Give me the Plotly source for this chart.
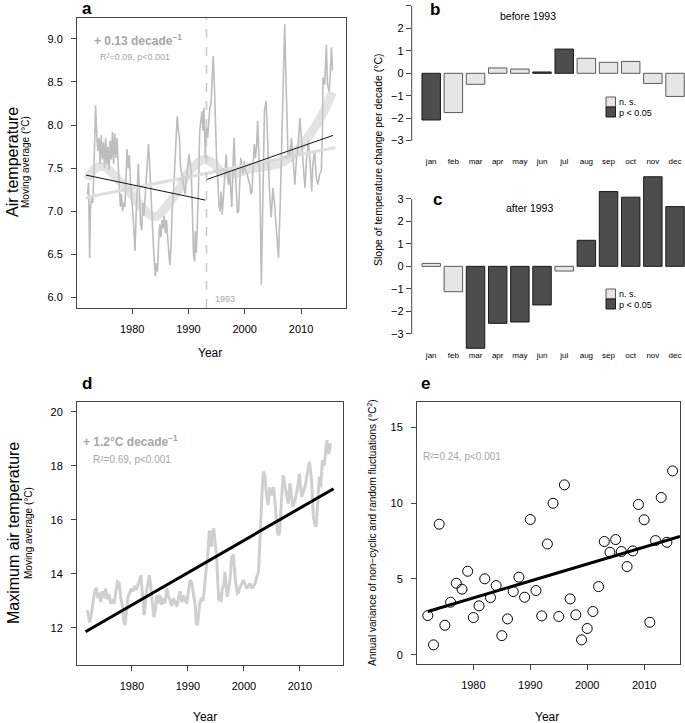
import plotly.graph_objects as go

W, H = 685, 723
def px(x): return x / W
def py(y): return 1 - y / H

FONT = "Liberation Sans, Arial, sans-serif"

# ---------------- data ----------------
months = ["jan", "feb", "mar", "apr", "may", "jun", "jul", "aug", "sep", "oct", "nov", "dec"]
slope_before = [-2.08, -1.75, -0.49, 0.24, 0.19, 0.06, 1.08, 0.67, 0.49, 0.53, -0.45, -1.03]
sig_before = [1, 0, 0, 0, 0, 1, 1, 0, 0, 0, 0, 0]
slope_after = [0.13, -1.13, -3.65, -2.54, -2.48, -1.72, -0.21, 1.16, 3.33, 3.08, 3.99, 2.66]
sig_after = [0, 0, 1, 1, 1, 1, 0, 1, 1, 1, 1, 1]

air_year = [1972.05, 1972.25, 1972.45, 1972.6, 1972.8, 1973.0, 1973.2, 1973.5, 1973.7, 1973.9,
            1974.1, 1974.3, 1974.5, 1974.7, 1974.9, 1975.1, 1975.3, 1975.5, 1975.7, 1975.9,
            1976.1, 1976.3, 1976.5, 1976.7, 1976.9, 1977.1, 1977.3, 1977.5, 1977.7, 1977.9,
            1978.1, 1978.3, 1978.5, 1978.7, 1978.9, 1979.1, 1979.3, 1979.5, 1979.7, 1979.9,
            1980.1, 1980.3, 1980.5, 1980.7, 1980.9, 1981.1, 1981.3, 1981.5, 1981.7, 1981.9,
            1982.1, 1982.3, 1982.5, 1982.7, 1982.9, 1983.1, 1983.3, 1983.5, 1983.7, 1983.9,
            1984.1, 1984.3, 1984.5, 1984.7, 1984.9, 1985.1, 1985.3, 1985.5, 1985.7, 1985.9,
            1986.1, 1986.3, 1986.5, 1986.7, 1986.9, 1987.1, 1987.4, 1987.6, 1987.8, 1988.0,
            1988.2, 1988.4, 1988.6, 1988.8, 1989.0, 1989.2, 1989.4, 1989.6, 1989.9, 1990.1,
            1990.3, 1990.5, 1990.7, 1990.9, 1991.1, 1991.2, 1991.4, 1991.6, 1991.8, 1992.0,
            1992.2, 1992.4, 1992.6, 1992.75, 1993.0, 1993.2, 1993.4, 1993.6, 1993.8, 1994.0,
            1994.2, 1994.4, 1994.6, 1994.8, 1995.0, 1995.2, 1995.4, 1995.6, 1995.8, 1996.0,
            1996.2, 1996.4, 1996.7, 1996.9, 1997.1, 1997.3, 1997.5, 1997.7, 1997.9, 1998.1,
            1998.3, 1998.5, 1998.7, 1998.9, 1999.1, 1999.3, 1999.5, 1999.7, 1999.9, 2000.1,
            2000.4, 2000.7, 2000.9, 2001.1, 2001.3, 2001.5, 2001.7, 2001.9, 2002.1, 2002.3,
            2002.5, 2002.7, 2002.95, 2003.2, 2003.5, 2003.8, 2004.1, 2004.4, 2004.7, 2005.0,
            2005.3, 2005.6, 2005.8, 2006.0, 2006.3, 2006.7, 2006.9, 2007.1, 2007.3, 2007.5,
            2007.7, 2008.0, 2008.3, 2008.6, 2008.9, 2009.2, 2009.5, 2009.8, 2010.1, 2010.4,
            2010.7, 2011.0, 2011.3, 2011.6, 2011.9, 2012.1, 2012.4, 2012.7, 2013.0, 2013.3,
            2013.6, 2013.8, 2013.9, 2014.2, 2014.5, 2014.7, 2015.0, 2015.2, 2015.4, 2015.6]
air_ma = [7.20, 7.33, 6.46, 7.05, 7.15, 7.10, 7.45, 8.23, 7.90, 7.70,
          7.85, 7.55, 7.88, 7.60, 7.80, 7.50, 7.85, 7.55, 7.75, 7.48,
          7.82, 7.60, 7.92, 7.55, 7.90, 7.62, 7.85, 7.45, 7.30, 7.05,
          7.20, 7.00, 7.10, 7.05, 7.40, 7.72, 7.50, 7.65, 7.35, 7.10,
          7.00, 6.80, 6.54, 6.95, 7.30, 7.55, 7.20, 6.85, 6.78, 7.10,
          6.95, 7.15, 7.40, 7.60, 7.78, 7.55, 7.20, 6.90, 6.70, 6.45,
          6.25, 6.40, 6.30, 6.65, 6.85, 6.70, 6.90, 6.80, 6.95, 6.75,
          6.90, 6.70, 6.55, 6.38, 6.60, 7.00, 7.30, 7.55, 7.90, 8.10,
          7.95, 7.85, 7.50, 7.45, 7.35, 7.25, 7.20, 7.35, 7.50, 7.66,
          7.55, 7.45, 7.00, 6.50, 6.42, 6.77, 6.52, 6.90, 7.30, 7.93,
          8.10, 8.16, 7.93, 8.20, 7.62, 7.97, 7.85, 8.05, 8.20, 8.24,
          8.50, 8.80, 8.47, 8.00, 7.60, 7.39, 7.08, 7.00, 7.23, 6.96,
          7.15, 7.31, 7.66, 7.45, 7.31, 7.47, 7.16, 7.05, 7.50, 7.85,
          7.50, 7.20, 6.98, 7.00, 7.31, 7.62, 7.50, 7.43, 7.58, 7.48,
          7.43, 7.35, 7.31, 7.20, 7.23, 7.55, 7.78, 7.62, 7.75, 8.05,
          7.70, 7.30, 6.15, 7.08, 8.16, 8.28, 7.70, 7.23, 6.93, 7.27,
          7.08, 6.77, 6.70, 6.46, 7.08, 8.08, 8.70, 9.17, 8.60, 8.10,
          7.62, 7.66, 7.85, 7.58, 7.31, 7.62, 7.78, 8.08, 7.78, 7.54,
          7.27, 7.62, 7.81, 7.58, 7.23, 7.54, 7.70, 7.39, 7.31, 7.43,
          7.47, 7.90, 8.55, 8.47, 8.93, 8.47, 8.39, 8.60, 8.90, 8.63]

loess_year = [1972, 1973.5, 1975, 1977, 1979, 1981, 1983, 1984.3, 1986, 1988, 1990, 1992,
              1993, 1994.5, 1996, 1998, 2000, 2002, 2004, 2006, 2008, 2010, 2012, 2014, 2015.6]
loess_val = [7.37, 7.50, 7.52, 7.40, 7.27, 7.10, 6.97, 6.94, 7.05, 7.22, 7.45, 7.58,
             7.60, 7.55, 7.45, 7.43, 7.47, 7.50, 7.52, 7.55, 7.62, 7.76, 7.93, 8.15, 8.38]

trend_all_year = [1971.8, 2016.1]
trend_all_val = [7.16, 7.74]
trend_before_year = [1971.8, 1993.0]
trend_before_val = [7.42, 7.13]
trend_after_year = [1993.3, 2015.7]
trend_after_val = [7.37, 7.88]
break_year = 1993.2

max_year = [1972.0, 1972.2, 1972.45, 1972.7, 1973.0, 1973.3, 1973.6, 1973.9, 1974.1, 1974.4,
            1974.7, 1975.0, 1975.3, 1975.6, 1975.9, 1976.2, 1976.5, 1976.8, 1977.1, 1977.4,
            1977.7, 1978.0, 1978.3, 1978.5, 1978.75, 1979.0, 1979.3, 1979.6, 1979.9, 1980.2,
            1980.5, 1980.8, 1981.1, 1981.4, 1981.6, 1981.8, 1982.0, 1982.15, 1982.4, 1982.6,
            1982.9, 1983.1, 1983.3, 1983.5, 1983.7, 1983.9, 1984.2, 1984.4, 1984.7, 1985.0,
            1985.3, 1985.6, 1985.9, 1986.2, 1986.5, 1986.8, 1987.1, 1987.4, 1987.7, 1988.0,
            1988.3, 1988.6, 1988.9, 1989.2, 1989.5, 1989.8, 1990.1, 1990.4, 1990.7, 1991.0,
            1991.3, 1991.5, 1991.7, 1991.9, 1992.1, 1992.4, 1992.7, 1992.9, 1993.1, 1993.3,
            1993.6, 1993.8, 1994.0, 1994.2, 1994.4, 1994.6, 1994.8, 1995.1, 1995.3, 1995.5,
            1995.7, 1995.9, 1996.1, 1996.4, 1996.6, 1996.8, 1997.0, 1997.2, 1997.4, 1997.6,
            1997.8, 1998.1, 1998.3, 1998.5, 1998.8, 1999.0, 1999.3, 1999.6, 1999.9, 2000.2,
            2000.5, 2000.8, 2001.1, 2001.4, 2001.7, 2002.0, 2002.3, 2002.6, 2002.9, 2003.1,
            2003.3, 2003.5, 2003.75, 2004.0, 2004.3, 2004.6, 2004.85, 2005.1, 2005.3, 2005.5,
            2005.75, 2006.0, 2006.2, 2006.4, 2006.6, 2006.8, 2007.0, 2007.2, 2007.5, 2007.9,
            2008.2, 2008.45, 2008.7, 2009.1, 2009.5, 2009.9, 2010.1, 2010.3, 2010.7, 2011.0,
            2011.2, 2011.5, 2011.7, 2011.9, 2012.1, 2012.4, 2012.7, 2012.9, 2013.1, 2013.35,
            2013.5, 2013.7, 2014.0, 2014.3, 2014.5, 2014.8, 2015.1, 2015.3, 2015.45]
max_ma = [12.65, 12.40, 12.20, 12.45, 12.95, 13.30, 13.48, 13.10, 13.30, 12.95,
          13.35, 13.10, 13.45, 13.05, 13.25, 12.90, 13.00, 12.90, 13.30, 13.70,
          13.65, 13.10, 12.80, 12.30, 12.10, 12.60, 13.15, 13.30, 13.45, 13.35,
          13.55, 13.40, 13.60, 13.80, 13.95, 13.40, 12.80, 12.47, 12.90, 13.40,
          13.70, 13.95, 13.60, 13.15, 12.70, 12.40, 12.70, 13.20, 12.90, 13.20,
          12.85, 13.10, 12.90, 13.46, 13.20, 13.00, 12.80, 13.10, 12.90, 12.78,
          13.10, 13.35, 12.95, 13.20, 13.00, 12.90, 13.40, 13.77, 13.65, 13.20,
          12.80, 12.16, 12.10, 12.50, 12.90, 13.10, 13.00, 13.40, 13.80, 14.26,
          14.90, 15.60, 15.40, 15.00, 15.55, 15.68, 15.20, 14.63, 13.80, 13.00,
          13.27, 12.95, 13.40, 13.60, 14.07, 13.50, 13.15, 13.40, 13.60, 14.00,
          14.63, 14.70, 14.10, 13.70, 13.27, 13.30, 13.50, 13.65, 13.77, 13.60,
          13.46, 13.55, 13.64, 13.45, 13.58, 13.65, 13.90, 14.07, 15.50, 16.60,
          17.35, 17.78, 17.60, 16.98, 16.54, 17.20, 16.90, 17.10, 17.20, 16.73,
          15.90, 15.50, 15.43, 15.60, 16.40, 17.10, 17.65, 17.40, 17.10, 16.60,
          17.35, 16.90, 16.48, 16.73, 17.10, 17.70, 17.20, 16.85, 17.10, 17.30,
          17.60, 17.90, 18.15, 17.80, 17.35, 16.10, 15.80, 15.74, 16.60, 17.30,
          17.60, 17.20, 18.20, 18.00, 18.33, 18.95, 18.45, 18.60, 18.83]
max_trend_year = [1971.7, 2016.0]
max_trend_val = [11.85, 17.15]

var_year = list(range(1972, 2016))
var_val = [2.59, 0.66, 8.61, 1.95, 3.47, 4.72, 4.33, 5.51, 2.46, 3.23,
           5.01, 3.78, 4.57, 1.27, 2.37, 4.17, 5.12, 3.80, 8.92, 4.24,
           2.57, 7.31, 9.99, 2.53, 11.20, 3.69, 2.64, 0.99, 1.74, 2.86,
           4.50, 7.47, 6.76, 7.60, 6.81, 5.82, 6.85, 9.91, 8.90, 2.15,
           7.53, 10.37, 7.42, 12.12]
var_trend_year = [1972.0, 2016.3]
var_trend_val = [2.86, 7.80]

# ---------------- figure ----------------
fig = go.Figure()

# Panel a
fig.add_trace(go.Scatter(x=air_year, y=air_ma, mode="lines",
                         line=dict(color="#bdbdbd", width=1.6), xaxis="x", yaxis="y"))
fig.add_trace(go.Scatter(x=trend_all_year, y=trend_all_val, mode="lines",
                         line=dict(color="#dedede", width=3), xaxis="x", yaxis="y"))
fig.add_trace(go.Scatter(x=loess_year, y=loess_val, mode="lines",
                         line=dict(color="rgba(200,200,200,0.5)", width=9, shape="spline"),
                         xaxis="x", yaxis="y"))
fig.add_trace(go.Scatter(x=trend_before_year, y=trend_before_val, mode="lines",
                         line=dict(color="#111111", width=1), xaxis="x", yaxis="y"))
fig.add_trace(go.Scatter(x=trend_after_year, y=trend_after_val, mode="lines",
                         line=dict(color="#111111", width=1), xaxis="x", yaxis="y"))

# Panels b and c
def bar_colors(sig):
    return (["#4d4d4d" if s else "#e6e6e6" for s in sig],
            ["#1a1a1a" if s else "#5a5a5a" for s in sig])

fb, lb = bar_colors(sig_before)
fig.add_trace(go.Bar(x=months, y=slope_before, marker=dict(color=fb, line=dict(color=lb, width=1)),
                     xaxis="x2", yaxis="y2"))
fa, la = bar_colors(sig_after)
fig.add_trace(go.Bar(x=months, y=slope_after, marker=dict(color=fa, line=dict(color=la, width=1)),
                     xaxis="x3", yaxis="y3"))

# Panel d
fig.add_trace(go.Scatter(x=max_year, y=max_ma, mode="lines",
                         line=dict(color="#cfcfcf", width=3), xaxis="x4", yaxis="y4"))
fig.add_trace(go.Scatter(x=max_trend_year, y=max_trend_val, mode="lines",
                         line=dict(color="#000000", width=3), xaxis="x4", yaxis="y4"))

# Panel e
fig.add_trace(go.Scatter(x=var_trend_year, y=var_trend_val, mode="lines",
                         line=dict(color="#000000", width=3), xaxis="x5", yaxis="y5"))
fig.add_trace(go.Scatter(x=var_year, y=var_val, mode="markers",
                         marker=dict(symbol="circle-open", size=10, color="#000000",
                                     line=dict(width=1)), xaxis="x5", yaxis="y5"))

tickfont = dict(family=FONT, size=11, color="#000000")
box = dict(showline=True, mirror=True, linecolor="#444444", linewidth=1,
           showgrid=False, zeroline=False, ticks="outside", ticklen=5,
           tickcolor="#444444", tickfont=tickfont)

layout_axes = dict(
    xaxis=dict(domain=[px(77), px(345.5)], range=[1970.2, 2017.9], anchor="y",
               tickvals=[1980, 1990, 2000, 2010], ticklabelstandoff=6, **box),
    yaxis=dict(domain=[py(308), py(18)], range=[5.88, 9.24], anchor="x",
               tickvals=[6.0, 6.5, 7.0, 7.5, 8.0, 8.5, 9.0],
               ticktext=["6.0", "6.5", "7.0", "7.5", "8.0", "8.5", "9.0"],
               ticklabelstandoff=6, **box),
    xaxis2=dict(domain=[px(411.7), 1], range=[-0.88, 11.45], anchor="y2",
                showline=False, showgrid=False, zeroline=False, ticks="",
                tickfont=dict(family=FONT, size=8, color="#000000")),
    yaxis2=dict(domain=[py(155.0), py(1.5)], range=[-3.64, 3.2], anchor="x2",
                showline=False, showgrid=False, zeroline=False, ticks="outside",
                ticklen=5, tickcolor="#444444", tickfont=tickfont,
                tickvals=[-3, -2, -1, 0, 1, 2, 3]),
    xaxis3=dict(domain=[px(411.7), 1], range=[-0.88, 11.45], anchor="y3",
                showline=False, showgrid=False, zeroline=False, ticks="",
                tickfont=dict(family=FONT, size=8, color="#000000")),
    yaxis3=dict(domain=[py(349.4), py(175.4)], range=[-3.7, 4.05], anchor="x3",
                showline=False, showgrid=False, zeroline=False, ticks="outside",
                ticklen=5, tickcolor="#444444", tickfont=tickfont,
                tickvals=[-3, -2, -1, 0, 1, 2, 3]),
    xaxis4=dict(domain=[px(77), px(343)], range=[1970.18, 2017.68], anchor="y4",
                tickvals=[1980, 1990, 2000, 2010], ticklabelstandoff=6, **box),
    yaxis4=dict(domain=[py(665), py(402)], range=[10.62, 20.36], anchor="x4",
                tickvals=[12, 14, 16, 18, 20], ticklabelstandoff=6, **box),
    xaxis5=dict(domain=[px(417), px(680)], range=[1970.1, 2016.3], anchor="y5",
                tickvals=[1980, 1990, 2000, 2010], ticklabelstandoff=6, **box),
    yaxis5=dict(domain=[py(664), py(402)], range=[-0.6, 16.66], anchor="x5",
                tickvals=[0, 5, 10, 15], ticklabelstandoff=6, **box),
)

shapes = [
    dict(type="line", xref="x", yref="y domain", x0=break_year, x1=break_year, y0=0, y1=1,
         line=dict(color="#c8c8c8", width=1.5, dash="dash")),
    dict(type="line", xref="x2 domain", yref="y2", x0=0, x1=0, y0=-3, y1=3,
         line=dict(color="#444444", width=1)),
    dict(type="line", xref="x3 domain", yref="y3", x0=0, x1=0, y0=-3, y1=3,
         line=dict(color="#444444", width=1)),
]
# legend squares for b and c
for top in (97, 289):
    shapes.append(dict(type="rect", xref="paper", yref="paper", x0=px(606), x1=px(615.5),
                       y0=py(top + 10), y1=py(top), fillcolor="#e6e6e6",
                       line=dict(color="#5a5a5a", width=1)))
    shapes.append(dict(type="rect", xref="paper", yref="paper", x0=px(606), x1=px(615.5),
                       y0=py(top + 20), y1=py(top + 10), fillcolor="#4d4d4d",
                       line=dict(color="#1a1a1a", width=1)))

def ann(text, x, y, size=11, color="#000000", bold=False, angle=0, xanchor="center"):
    t = f"<b>{text}</b>" if bold else text
    return dict(text=t, x=px(x), y=py(y), xref="paper", yref="paper", showarrow=False,
                xanchor=xanchor, yanchor="middle", textangle=angle,
                font=dict(family=FONT, size=size, color=color))

grey = "#a6a6a6"
annotations = [
    ann("a", 87, 9, size=17, bold=True),
    ann("b", 435, 10, size=17, bold=True),
    ann("c", 437, 199, size=17, bold=True),
    ann("d", 87, 383, size=17, bold=True),
    ann("e", 425, 383, size=17, bold=True),
    ann("+ 0.13 decade<sup>−1</sup>", 92, 40, size=12, color=grey, bold=True, xanchor="left"),
    ann("R²=0.09, p<0.001", 98, 57, size=9, color=grey, xanchor="left"),
    ann("1993", 213, 299, size=9, color=grey, xanchor="left"),
    ann("Air temperature", 12, 162, size=16, angle=-90),
    ann("Moving average (°C)", 25, 162, size=10, angle=-90),
    ann("Year", 210, 353, size=12),
    ann("before 1993", 528, 16, size=10.5),
    ann("after 1993", 529, 208, size=10.5),
    ann("n. s.", 617, 102, size=9, xanchor="left"),
    ann("p < 0.05", 617, 113, size=9, xanchor="left"),
    ann("n. s.", 617, 294, size=9, xanchor="left"),
    ann("p < 0.05", 617, 305, size=9, xanchor="left"),
    ann("Slope of temperature change per decade (°C)", 378, 160, size=10.5, angle=-90),
    ann("+ 1.2°C decade<sup>−1</sup>", 81, 441, size=12, color=grey, bold=True, xanchor="left"),
    ann("R²=0.69, p<0.001", 91, 459, size=10, color=grey, xanchor="left"),
    ann("Maximum air temperature", 13, 533, size=16, angle=-90),
    ann("Moving average (°C)", 28, 533, size=10, angle=-90),
    ann("Year", 205, 717, size=12),
    ann("R²=0.24, p<0.001", 421, 456, size=10, color=grey, xanchor="left"),
    ann("Annual variance of non−cyclic and random fluctuations (°C<sup>2</sup>)", 372, 533,
        size=10, angle=-90),
    ann("Year", 547, 717, size=12),
]

fig.update_layout(
    width=W, height=H, margin=dict(l=0, r=0, t=0, b=0),
    paper_bgcolor="white", plot_bgcolor="white", showlegend=False,
    bargap=0.167, font=dict(family=FONT),
    shapes=shapes, annotations=annotations, **layout_axes,
)

fig.write_html("out.html", config={"displayModeBar": False},
               post_script="document.body.style.margin='0px';document.body.style.overflow='hidden';")
